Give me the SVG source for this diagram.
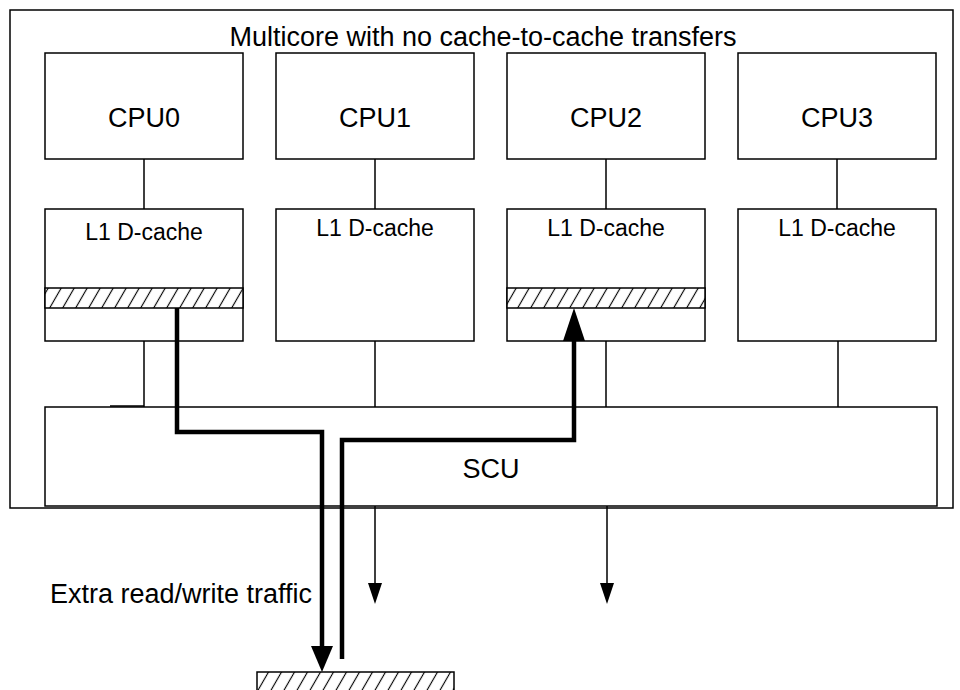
<svg xmlns="http://www.w3.org/2000/svg" width="960" height="690" viewBox="0 0 960 690">
<defs>
<style>
.box{fill:#fff;stroke:#000;stroke-width:1.5}
.ln{fill:none;stroke:#000;stroke-width:1.5}
.thick{fill:none;stroke:#000;stroke-width:4.5;stroke-linejoin:miter}
.t{font-family:"Liberation Sans",Arial,sans-serif;fill:#000;text-anchor:middle}
.big{font-size:27px}
.mid{font-size:23px}
.hatch{fill:url(#hatch);stroke:#000;stroke-width:1.5}
</style>
<pattern id="hatch" patternUnits="userSpaceOnUse" width="13" height="13" patternTransform="skewX(-30)">
<rect width="13" height="13" fill="#fff"/>
<path d="M6.5,0 V13" stroke="#000" stroke-width="1.3"/>
</pattern>
</defs>
<rect width="960" height="690" fill="#fff"/>
<g id="frame">
<rect x="10" y="10" width="943" height="498" class="box"/>
<text x="483" y="46" class="t big">Multicore with no cache-to-cache transfers</text>
</g>
<g id="cpu0"><rect x="45" y="53" width="198" height="106" class="box"/><text x="144" y="127" class="t big">CPU0</text></g>
<g id="cpu1"><rect x="276" y="53" width="198" height="106" class="box"/><text x="375" y="127" class="t big">CPU1</text></g>
<g id="cpu2"><rect x="507" y="53" width="198" height="106" class="box"/><text x="606" y="127" class="t big">CPU2</text></g>
<g id="cpu3"><rect x="738" y="53" width="198" height="106" class="box"/><text x="837" y="127" class="t big">CPU3</text></g>
<g id="l1-0"><rect x="45" y="209" width="198" height="132" class="box"/><rect x="45" y="288" width="198" height="20" class="hatch"/><text x="144" y="240" class="t mid">L1 D-cache</text></g>
<g id="l1-1"><rect x="276" y="209" width="198" height="132" class="box"/><text x="375" y="236" class="t mid">L1 D-cache</text></g>
<g id="l1-2"><rect x="507" y="209" width="198" height="132" class="box"/><rect x="507" y="288" width="198" height="20" class="hatch"/><text x="606" y="236" class="t mid">L1 D-cache</text></g>
<g id="l1-3"><rect x="738" y="209" width="198" height="132" class="box"/><text x="837" y="236" class="t mid">L1 D-cache</text></g>
<g id="scu"><rect x="45" y="407" width="892" height="99" class="box"/><text x="491" y="478" class="t big">SCU</text></g>
<g id="memory"><rect x="257" y="672" width="197" height="30" class="hatch"/></g>
<g id="label"><text x="312" y="603" class="t big" style="text-anchor:end">Extra read/write traffic</text></g>
<g id="connectors">
<path class="ln" d="M144,159V209M375,159V209M606,159V209M837,159V209"/>
<path class="ln" d="M144,341V407M375,341V407M606,341V407M838,341V407M110,406H144"/>
<path class="ln" d="M375,506V585M607,506V585"/>
<polygon points="368,583 382,583 375,604"/>
<polygon points="600,583 614,583 607,604"/>
<path class="thick" d="M177,308V432H322V648"/>
<polygon points="311,646 333,646 322,672"/>
<path class="thick" d="M342,659V440H574V338"/>
<polygon points="563,341 585,341 574,308"/>
</g>
</svg>
